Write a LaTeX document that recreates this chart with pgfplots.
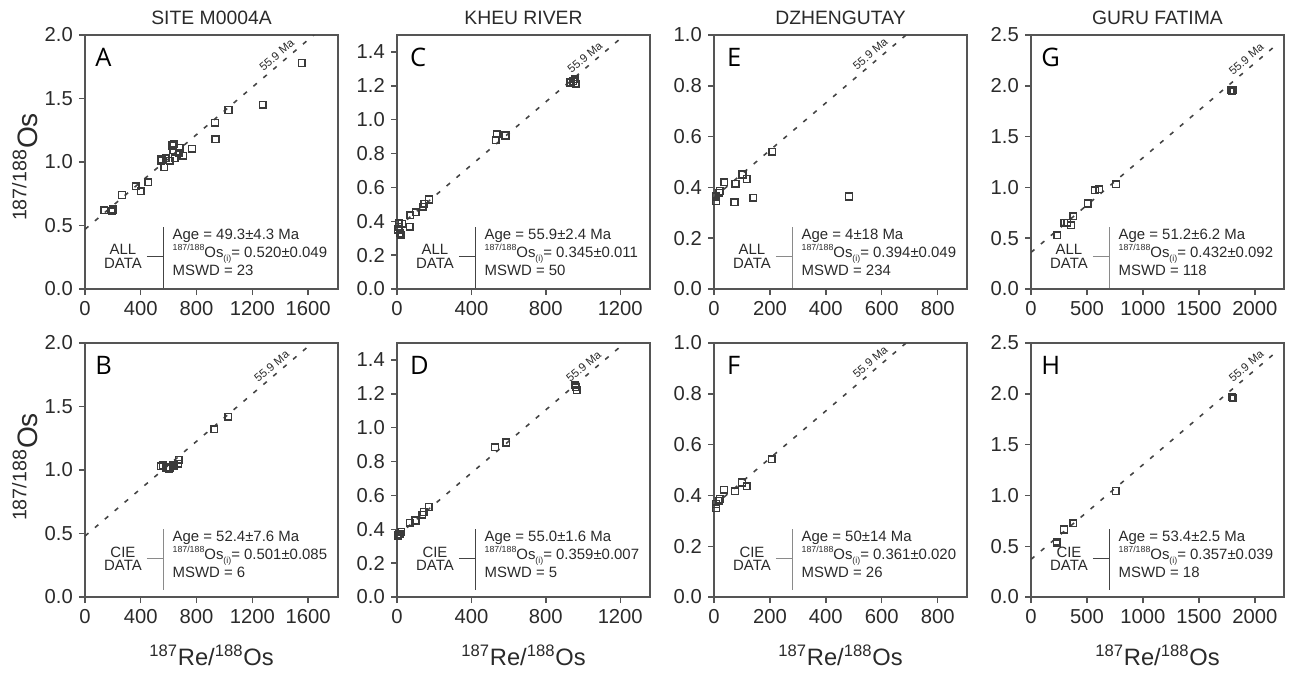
\documentclass[border=0pt]{standalone}
\usepackage{fontspec}
\setmainfont{Liberation Sans}
\newfontfamily\letterfont{Open Sans}
\usepackage{pgfplots}
\pgfplotsset{compat=1.18}
\definecolor{axgray}{HTML}{555555}
\definecolor{txtgray}{HTML}{2A2A2A}
\definecolor{mkgray}{HTML}{3A3A3A}
\definecolor{lngray}{HTML}{444444}
\definecolor{ltgray}{HTML}{8A8A8A}

\pgfplotsset{
  panel/.style={
    scale only axis, width=5.06cm, height=5.08cm, anchor=south west,
    xmin=0, ymin=0,
    axis line style={axgray, line width=0.9pt},
    tick align=outside, xtick pos=bottom, ytick pos=left,
    major tick length=0.12cm,
    tick style={axgray, line width=0.8pt},
    ticklabel style={font=\fontsize{11.5}{13}\selectfont, text=txtgray},
    /pgf/number format/assume math mode=true,
    xticklabel style={/pgf/number format/1000 sep={}},
    yticklabel style={/pgf/number format/.cd, fixed, fixed zerofill, precision=1},
  },
  pts/.style={only marks, mark=square, mark size=1.9pt,
    mark options={draw=mkgray, line width=0.85pt, fill=none}},
  ref/.style={lngray, line width=0.9pt, dash pattern=on 0.09cm off 0.17cm},
}
\tikzset{
  annot/.style={font=\fontsize{8.5}{10.2}\selectfont, text=txtgray, inner sep=0pt},
  lbl/.style={font=\fontsize{6.5}{7}\selectfont, text=txtgray, sloped, anchor=south, inner sep=2.2pt},
  letter/.style={font=\letterfont\fontsize{14.5}{16}\selectfont, text=black, anchor=west, inner sep=0pt},
  title/.style={font=\fontsize{11}{13}\selectfont, text=txtgray},
  xlab/.style={font=\fontsize{13.5}{15}\selectfont, text=txtgray},
}
\newcommand{\sm}[1]{{\fontsize{5}{5}\selectfont #1}}

% #1 first word, #2 age, #3 initial ratio, #4 MSWD, #5 shift, #6 colour
\newcommand{\annot}[6]{%
  \begin{scope}[yshift=#5]
  \draw[#6, line width=0.8pt] (rel axis cs:0.31,0.004) -- (rel axis cs:0.31,0.244);
  \draw[#6, line width=0.8pt] (rel axis cs:0.245,0.128) -- (rel axis cs:0.31,0.128);
  \node[annot, align=center, font=\fontsize{8.5}{7.6}\selectfont] at (rel axis cs:0.15,0.128) {#1\\DATA};
  \node[annot, align=left, anchor=west] at (rel axis cs:0.345,0.144)
    {Age = #2 Ma\\\raisebox{0.9ex}{\sm{187/188}}Os\raisebox{-0.5ex}{\sm{(i)}}= #3\\MSWD = #4};
  \end{scope}}

\begin{document}
\begin{tikzpicture}
\path[use as bounding box] (0,0) rectangle (25.86,13.44);

\node[title] at (4.23,13.08) {SITE M0004A};
\node[title] at (10.47,13.08) {KHEU RIVER};
\node[title] at (16.81,13.08) {DZHENGUTAY};
\node[title] at (23.15,13.08) {GURU FATIMA};

\node[xlab] at (4.23,0.34) {\textsuperscript{187}Re/\textsuperscript{188}Os};
\node[xlab] at (10.47,0.34) {\textsuperscript{187}Re/\textsuperscript{188}Os};
\node[xlab] at (16.81,0.34) {\textsuperscript{187}Re/\textsuperscript{188}Os};
\node[xlab] at (23.15,0.34) {\textsuperscript{187}Re/\textsuperscript{188}Os};

\node[font=\fontsize{16}{18}\selectfont, text=txtgray, rotate=90] at (0.5,10.1) {\textsuperscript{187/188}Os};
\node[font=\fontsize{16}{18}\selectfont, text=txtgray, rotate=90] at (0.5,4.1) {\textsuperscript{187/188}Os};

% A
\begin{axis}[panel, at={(1.70cm,7.66cm)}, xmax=1815, ymax=2.0,
  xtick={0,400,800,1200,1600}, ytick={0,0.5,1.0,1.5,2.0}]
\addplot[ref] coordinates {(0,0.47) (1815,2.162)} node[lbl, pos=0.78] {55.9 Ma};
\addplot[pts] coordinates {
  (138,0.62) (191,0.613) (198,0.626) (265,0.74) (365,0.81) (399,0.77)
  (453,0.84) (549,1.02) (568,0.96) (544,1.01) (580,1.03) (609,1.01)
  (625,1.13) (637,1.14) (632,1.095) (644,1.03) (673,1.07) (680,1.11)
  (704,1.05) (768,1.105) (933,1.31) (936,1.18) (1029,1.41) (1274,1.45)
  (1554,1.78)};
\annot{ALL}{49.3±4.3}{0.520±0.049}{23}{0cm}{lngray}
\node[letter] at (rel axis cs:0.04,0.913) {A};
\end{axis}

% B
\begin{axis}[panel, at={(1.70cm,1.50cm)}, xmax=1815, ymax=2.0,
  xtick={0,400,800,1200,1600}, ytick={0,0.5,1.0,1.5,2.0}]
\addplot[ref] coordinates {(0,0.48) (1815,2.172)} node[lbl, pos=0.76] {55.9 Ma};
\addplot[pts] coordinates {
  (545,1.03) (559,1.035) (582,1.02) (600,1.01) (606,1.02) (635,1.035)
  (670,1.05) (672,1.08) (927,1.32) (1027,1.42)};
\annot{CIE}{52.4±7.6}{0.501±0.085}{6}{0.12cm}{ltgray}
\node[letter] at (rel axis cs:0.04,0.913) {B};
\end{axis}

% C
\begin{axis}[panel, at={(7.94cm,7.66cm)}, xmax=1360, ymax=1.5,
  xtick={0,400,800,1200}, ytick={0,0.2,0.4,0.6,0.8,1.0,1.2,1.4}]
\addplot[ref] coordinates {(0,0.36) (1360,1.627)} node[lbl, pos=0.765] {55.9 Ma};
\addplot[pts] coordinates {
  (5,0.351) (9,0.387) (11,0.367) (14,0.331) (23,0.32) (27,0.385)
  (68,0.367) (71,0.436) (101,0.454) (139,0.485) (146,0.503) (172,0.529)
  (530,0.878) (537,0.913) (583,0.907) (933,1.219) (948,1.227) (956,1.239)
  (960,1.213)};
\annot{ALL}{55.9±2.4}{0.345±0.011}{50}{0cm}{lngray}
\node[letter] at (rel axis cs:0.05,0.913) {C};
\end{axis}

% D
\begin{axis}[panel, at={(7.94cm,1.50cm)}, xmax=1360, ymax=1.5,
  xtick={0,400,800,1200}, ytick={0,0.2,0.4,0.6,0.8,1.0,1.2,1.4}]
\addplot[ref] coordinates {(0,0.36) (1360,1.627)} node[lbl, pos=0.76] {55.9 Ma};
\addplot[pts] coordinates {
  (4,0.363) (13,0.371) (23,0.385) (68,0.438) (99,0.452) (135,0.486)
  (144,0.502) (171,0.532) (527,0.884) (588,0.912) (959,1.251) (960,1.239)
  (966,1.221)};
\annot{CIE}{55.0±1.6}{0.359±0.007}{5}{0.12cm}{lngray}
\node[letter] at (rel axis cs:0.05,0.913) {D};
\end{axis}

% E
\begin{axis}[panel, at={(14.28cm,7.66cm)}, xmax=905, ymax=1.0,
  xtick={0,200,400,600,800}, ytick={0,0.2,0.4,0.6,0.8,1.0}]
\addplot[ref] coordinates {(0,0.36) (905,1.203)} node[lbl, pos=0.64] {55.9 Ma};
\addplot[pts] coordinates {
  (7,0.345) (7,0.364) (18,0.379) (21,0.386) (37,0.42) (73,0.342)
  (77,0.414) (102,0.451) (117,0.433) (140,0.359) (208,0.541) (483,0.364)};
\annot{ALL}{4±18}{0.394±0.049}{234}{0cm}{ltgray}
\node[letter] at (rel axis cs:0.05,0.913) {E};
\end{axis}

% F
\begin{axis}[panel, at={(14.28cm,1.50cm)}, xmax=905, ymax=1.0,
  xtick={0,200,400,600,800}, ytick={0,0.2,0.4,0.6,0.8,1.0}]
\addplot[ref] coordinates {(0,0.36) (905,1.203)} node[lbl, pos=0.64] {55.9 Ma};
\addplot[pts] coordinates {
  (7,0.349) (7,0.366) (17,0.379) (21,0.386) (36,0.422) (75,0.416)
  (100,0.451) (117,0.436) (207,0.542)};
\annot{CIE}{50±14}{0.361±0.020}{26}{0.12cm}{ltgray}
\node[letter] at (rel axis cs:0.05,0.913) {F};
\end{axis}

% G
\begin{axis}[panel, at={(20.62cm,7.66cm)}, xmax=2260, ymax=2.5,
  xtick={0,500,1000,1500,2000}, ytick={0,0.5,1.0,1.5,2.0,2.5}]
\addplot[ref] coordinates {(0,0.36) (2180,2.392)} node[lbl, pos=0.905] {55.9 Ma};
\addplot[pts] coordinates {
  (235,0.528) (298,0.653) (324,0.653) (357,0.627) (378,0.716) (506,0.841)
  (571,0.973) (610,0.983) (759,1.032) (1783,1.956) (1795,1.946) (1807,1.956)};
\annot{ALL}{51.2±6.2}{0.432±0.092}{118}{0cm}{ltgray}
\node[letter] at (rel axis cs:0.04,0.913) {G};
\end{axis}

% H
\begin{axis}[panel, at={(20.62cm,1.50cm)}, xmax=2260, ymax=2.5,
  xtick={0,500,1000,1500,2000}, ytick={0,0.5,1.0,1.5,2.0,2.5}]
\addplot[ref] coordinates {(0,0.37) (2180,2.402)} node[lbl, pos=0.905] {55.9 Ma};
\addplot[pts] coordinates {
  (229,0.543) (232,0.53) (295,0.665) (378,0.725) (756,1.044) (1792,1.966)
  (1807,1.957)};
\annot{CIE}{53.4±2.5}{0.357±0.039}{18}{0.12cm}{lngray}
\node[letter] at (rel axis cs:0.04,0.913) {H};
\end{axis}
\end{tikzpicture}
\end{document}
